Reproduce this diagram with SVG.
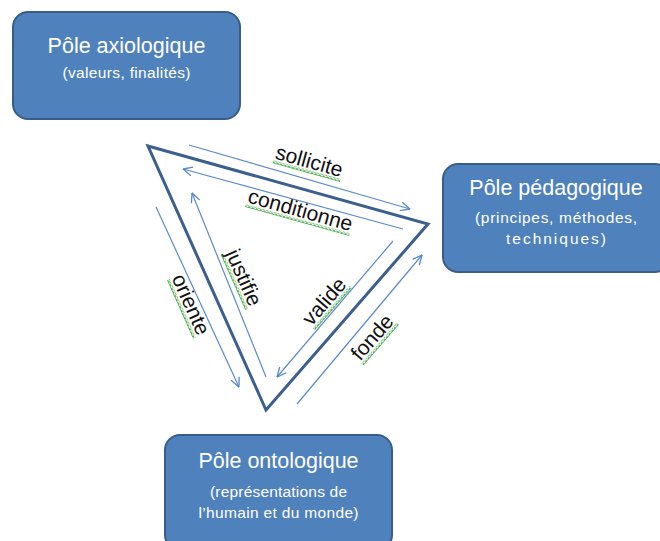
<svg xmlns="http://www.w3.org/2000/svg" width="660" height="541" viewBox="0 0 660 541">
<defs>
<style>
.box{fill:#4F81BD;stroke:#385D8A;stroke-width:2}
.t{font-family:"Liberation Sans",Arial,sans-serif;fill:#fff;text-anchor:middle}
.title{font-size:21.5px}
.sub{font-size:15.5px}
.tri{fill:none;stroke:#3C5F8E;stroke-width:3;stroke-linejoin:miter}
.arr{fill:none;stroke:#5B8BC9;stroke-width:1.2;marker-end:url(#ah)}
.lbl{font-family:"Liberation Sans",Arial,sans-serif;font-size:21px;fill:#111;text-anchor:middle}
.wv{fill:url(#wave)}
</style>
<marker id="ah" viewBox="0 0 10 10" refX="9.5" refY="5" markerWidth="11" markerHeight="11" markerUnits="userSpaceOnUse" orient="auto">
<path d="M1,1 L9.5,5 L1,9" fill="none" stroke="#5B8BC9" stroke-width="1.2"/>
</marker>
<pattern id="wave" width="4" height="3" patternUnits="userSpaceOnUse">
<path d="M0,2.4 L2,0.6 L4,2.4" fill="none" stroke="#2E9A2E" stroke-width="1.1"/>
</pattern>
</defs>
<rect width="660" height="541" fill="#fff"/>
<g id="connectors">
<polygon class="tri" points="148,146 428,224 266,410"/>
<line class="arr" x1="189" y1="145" x2="410" y2="209"/>
<line class="arr" x1="403" y1="229" x2="183" y2="169"/>
<line class="arr" x1="266" y1="377" x2="192" y2="193"/>
<line class="arr" x1="156" y1="207" x2="239" y2="387"/>
<line class="arr" x1="393" y1="241" x2="277" y2="377"/>
<line class="arr" x1="297" y1="404" x2="422" y2="255"/>
</g>
<g id="labels">
<g transform="translate(309,162) rotate(15.6)"><text class="lbl" x="0" y="6">sollicite</text><rect class="wv" x="-35" y="8" width="70" height="3"/></g>
<g transform="translate(300,211) rotate(15.6)"><text class="lbl" x="0" y="6">conditionne</text><rect class="wv" x="-54" y="8" width="108" height="3"/></g>
<g transform="translate(243,278) rotate(66)"><text class="lbl" x="0" y="6">justifie</text><rect class="wv" x="-30" y="8" width="60" height="3"/></g>
<g transform="translate(190,305) rotate(66)"><text class="lbl" x="0" y="6">oriente</text><rect class="wv" x="-32" y="8" width="64" height="3"/></g>
<g transform="translate(325,302) rotate(-49)"><text class="lbl" x="0" y="6">valide</text><rect class="wv" x="-28" y="8" width="56" height="3"/></g>
<g transform="translate(373,338) rotate(-49)"><text class="lbl" x="0" y="6">fonde</text><rect class="wv" x="-27" y="8" width="54" height="3"/></g>
</g>
<g id="pole-axiologique">
<rect class="box" x="13" y="12" width="227" height="107" rx="15"/>
<text class="t title" x="126.5" y="53">Pôle axiologique</text>
<text class="t sub" x="126.5" y="78" textLength="128" lengthAdjust="spacing">(valeurs, finalités)</text>
</g>
<g id="pole-pedagogique">
<rect class="box" x="443" y="164" width="227" height="108" rx="15"/>
<text class="t title" x="556" y="195">Pôle pédagogique</text>
<text class="t sub" x="556" y="223" textLength="162" lengthAdjust="spacing">(principes, méthodes,</text>
<text class="t sub" x="556" y="244" textLength="100" lengthAdjust="spacing">techniques)</text>
</g>
<g id="pole-ontologique">
<rect class="box" x="165" y="435" width="227" height="115" rx="15"/>
<text class="t title" x="278.5" y="468">Pôle ontologique</text>
<text class="t sub" x="278.5" y="497" textLength="137" lengthAdjust="spacing">(représentations de</text>
<text class="t sub" x="278.5" y="518" textLength="160" lengthAdjust="spacing">l’humain et du monde)</text>
</g>
</svg>
